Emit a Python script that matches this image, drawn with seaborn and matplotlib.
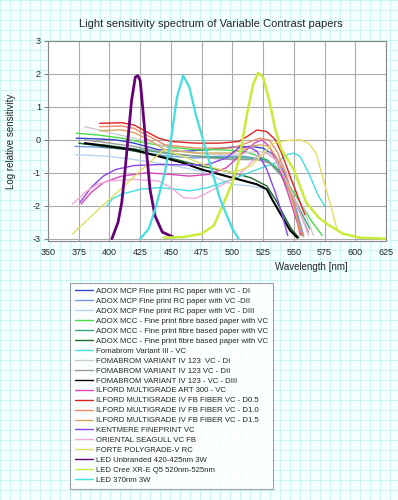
import matplotlib
matplotlib.use("Agg")
import matplotlib.pyplot as plt
import seaborn as sns
import pandas as pd

title = "Light sensitivity spectrum of Variable Contrast papers"
x_label = "Wavelength [nm]"
y_label = "Log relative sensitivity"
x_ticks = [350, 375, 400, 425, 450, 475, 500, 525, 550, 575, 600, 625]
y_ticks = [-3, -2, -1, 0, 1, 2, 3]

labels = [
    "ADOX MCP Fine print RC paper with VC - DI",
    "ADOX MCP Fine print RC paper with VC -DII",
    "ADOX MCP Fine print RC paper with VC - DIII",
    "ADOX MCC - Fine print fibre based paper with VC",
    "ADOX MCC - Fine print fibre based paper with VC",
    "ADOX MCC - Fine print fibre based paper with VC",
    "Fomabrom Variant III - VC",
    "FOMABROM VARIANT IV 123  VC - DI",
    "FOMABROM VARIANT IV 123 VC - DII",
    "FOMABROM VARIANT IV 123 - VC - DIII",
    "ILFORD MULTIGRADE ART 300 - VC",
    "ILFORD MULTIGRADE IV FB FIBER VC - D0.5",
    "ILFORD MULTIGRADE IV FB FIBER VC - D1.0",
    "ILFORD MULTIGRADE IV FB FIBER VC - D1.5",
    "KENTMERE FINEPRINT VC",
    "ORIENTAL SEAGULL VC FB",
    "FORTE POLYGRADE-V RC",
    "LED Unbranded 420-425nm 3W",
    "LED Cree XR-E Q5 520nm-525nm",
    "LED 370nm 3W",
]

# --- series data (wavelength nm, log relative sensitivity) ---
adox_mcp_d1_wl = [373, 390, 405, 420, 440, 460, 480, 500, 515, 525, 535, 542, 548, 553, 557]
adox_mcp_d1 = [0.05, 0.03, 0.0, -0.1, -0.3, -0.35, -0.3, -0.22, -0.2, -0.25, -0.5, -1.0, -1.6, -2.3, -2.9]

adox_mcp_d2_wl = [372, 390, 410, 430, 450, 470, 490, 510, 525, 535, 543, 550, 555, 558]
adox_mcp_d2 = [-0.2, -0.22, -0.28, -0.4, -0.5, -0.55, -0.5, -0.5, -0.6, -0.8, -1.3, -1.9, -2.5, -2.9]

adox_mcp_d3_wl = [372, 400, 430, 455, 474, 490, 500, 515, 528, 535, 542, 550]
adox_mcp_d3 = [-0.45, -0.5, -0.65, -0.8, -0.95, -1.2, -1.35, -1.4, -1.5, -1.8, -2.3, -2.9]

adox_mcc_1_wl = [373, 390, 410, 430, 450, 470, 490, 510, 525, 535, 545, 555, 565, 573]
adox_mcc_1 = [0.2, 0.15, 0.05, -0.1, -0.22, -0.3, -0.3, -0.35, -0.55, -0.8, -1.3, -1.9, -2.5, -2.9]

adox_mcc_2_wl = [378, 395, 415, 435, 455, 475, 495, 515, 528, 538, 548, 556, 563]
adox_mcc_2 = [-0.12, -0.15, -0.25, -0.35, -0.45, -0.5, -0.55, -0.55, -0.6, -0.95, -1.6, -2.2, -2.7]

adox_mcc_3_wl = [375, 395, 415, 435, 455, 475, 495, 515, 528, 535, 542, 548, 554]
adox_mcc_3 = [-0.1, -0.2, -0.3, -0.45, -0.6, -0.8, -0.95, -1.15, -1.4, -1.8, -2.3, -2.7, -2.97]

foma_iii_wl = [398, 402, 410, 425, 440, 455, 465, 480, 500, 520, 535, 545, 550, 555, 562, 570, 575]
foma_iii = [-2.0, -1.8, -1.65, -1.5, -1.45, -1.5, -1.55, -1.45, -1.2, -0.9, -0.7, -0.45, -0.4, -0.5, -1.0, -1.7, -2.0]

foma_iv_d1_wl = [380, 400, 420, 440, 460, 480, 500, 520, 530, 540, 550, 558, 566]
foma_iv_d1 = [0.4, 0.22, 0.05, -0.15, -0.35, -0.45, -0.45, -0.35, -0.4, -0.7, -1.4, -2.1, -2.9]

foma_iv_d2_wl = [380, 400, 420, 440, 460, 480, 500, 520, 530, 540, 550, 557, 562]
foma_iv_d2 = [0.0, -0.1, -0.2, -0.35, -0.45, -0.55, -0.6, -0.6, -0.7, -1.1, -1.8, -2.4, -2.8]

foma_iv_d3_wl = [380, 400, 420, 440, 460, 475, 490, 505, 520, 528, 533, 540, 547, 553]
foma_iv_d3 = [-0.1, -0.2, -0.3, -0.5, -0.7, -0.9, -1.05, -1.2, -1.35, -1.5, -1.85, -2.3, -2.75, -2.97]

ilford_art_wl = [377, 385, 395, 410, 430, 450, 465, 480, 495, 510, 518, 524, 530, 537, 545, 551, 556]
ilford_art = [-1.95, -1.6, -1.3, -1.1, -1.0, -1.05, -1.1, -1.05, -0.85, -0.35, -0.1, 0.0, -0.2, -0.75, -1.6, -2.3, -2.9]

ilford_d05_wl = [392, 410, 420, 430, 440, 450, 470, 490, 505, 512, 520, 528, 535, 540, 545, 550, 555, 559]
ilford_d05 = [0.5, 0.52, 0.45, 0.25, 0.05, -0.05, -0.1, -0.1, -0.05, 0.1, 0.3, 0.25, 0.0, -0.4, -0.9, -1.4, -1.9, -2.27]

ilford_d10_wl = [392, 410, 420, 430, 445, 470, 500, 515, 522, 530, 537, 545, 550, 555]
ilford_d10 = [0.4, 0.42, 0.35, 0.15, -0.15, -0.25, -0.25, -0.05, 0.05, 0.0, -0.4, -1.2, -1.9, -2.9]

ilford_d15_wl = [392, 410, 420, 432, 445, 470, 500, 515, 522, 530, 537, 545, 552, 558]
ilford_d15 = [0.28, 0.3, 0.22, 0.0, -0.3, -0.4, -0.4, -0.2, -0.15, -0.2, -0.6, -1.4, -2.3, -2.95]

kentmere_wl = [376, 385, 395, 405, 420, 440, 460, 480, 495, 505, 513, 520, 528, 535, 540, 545]
kentmere = [-1.9, -1.45, -1.1, -0.9, -0.78, -0.75, -0.76, -0.75, -0.55, -0.25, -0.2, -0.35, -0.9, -1.6, -2.2, -2.9]

oriental_wl = [370, 380, 390, 400, 420, 440, 450, 460, 470, 480, 495, 510, 520, 528, 535, 545, 555, 562]
oriental = [-1.95, -1.6, -1.35, -1.25, -1.2, -1.25, -1.45, -1.75, -1.78, -1.6, -1.3, -0.9, -0.5, -0.4, -0.6, -1.3, -2.2, -2.9]

forte_wl = [370, 390, 406, 425, 444, 460, 480, 500, 515, 533, 545, 555, 562, 568, 574, 580, 585]
forte = [-2.85, -2.15, -1.6, -0.95, -0.3, -0.5, -0.8, -1.0, -0.8, -0.1, -0.02, 0.0, -0.1, -0.4, -1.2, -2.0, -2.7]

led_420_wl = [402, 407, 410, 412, 415, 418, 421, 423, 425, 427, 430, 433, 437, 443, 452]
led_420 = [-3.0, -2.5, -1.9, -1.2, 0.0, 1.2, 1.9, 1.95, 1.8, 1.0, -0.3, -1.5, -2.3, -2.8, -2.95]

led_cree_wl = [444, 460, 475, 485, 492, 500, 506, 512, 517, 521, 525, 530, 535, 540, 550, 560, 570, 577, 590, 604, 625]
led_cree = [-2.97, -2.95, -2.85, -2.6, -2.0, -1.3, -0.5, 0.8, 1.7, 2.03, 1.9, 1.2, 0.3, -0.3, -0.9, -1.9, -2.35, -2.55, -2.85, -2.97, -3.0]

led_370_wl = [425, 432, 438, 445, 450, 455, 460, 465, 470, 480, 490, 500, 505]
led_370 = [-3.0, -2.7, -2.0, -1.0, 0.0, 1.3, 1.95, 1.6, 0.8, -0.5, -1.8, -2.7, -3.0]

series_wl = [adox_mcp_d1_wl, adox_mcp_d2_wl, adox_mcp_d3_wl, adox_mcc_1_wl, adox_mcc_2_wl,
             adox_mcc_3_wl, foma_iii_wl, foma_iv_d1_wl, foma_iv_d2_wl, foma_iv_d3_wl,
             ilford_art_wl, ilford_d05_wl, ilford_d10_wl, ilford_d15_wl, kentmere_wl,
             oriental_wl, forte_wl, led_420_wl, led_cree_wl, led_370_wl]
series_val = [adox_mcp_d1, adox_mcp_d2, adox_mcp_d3, adox_mcc_1, adox_mcc_2,
              adox_mcc_3, foma_iii, foma_iv_d1, foma_iv_d2, foma_iv_d3,
              ilford_art, ilford_d05, ilford_d10, ilford_d15, kentmere,
              oriental, forte, led_420, led_cree, led_370]

colors = ["#3344cc", "#6f9be8", "#b4d4f0", "#44dd44", "#33aa77", "#1f6b2a", "#44dddd",
          "#cccccc", "#999999", "#000000", "#dd44bb", "#dd2222", "#ee8866", "#d9a860",
          "#8844e6", "#eeaad6", "#e0e060", "#660077", "#c8ec3c", "#44dddd"]
widths = [1.0, 1.0, 1.0, 1.0, 1.0, 1.0, 1.0, 1.0, 1.0, 1.5, 1.0, 1.0, 1.0, 1.0, 1.0,
          1.0, 1.0, 2.0, 1.8, 1.6]

sns.set_theme(style="white")
plt.rcParams["font.family"] = ["Liberation Sans", "DejaVu Sans"]
plt.rcParams["axes.unicode_minus"] = False

fig = plt.figure(figsize=(3.98, 5.0), dpi=100)
fig.patch.set_facecolor("#f6ffff")

# graph-paper background
bg = fig.add_axes([0, 0, 1, 1], zorder=-10)
bg.set_xlim(0, 398)
bg.set_ylim(500, 0)
for gx in range(0, 399, 10):
    bg.axvline(gx, color="#c6f1f1", lw=0.6)
for gy in range(0, 501, 10):
    bg.axhline(gy, color="#c6f1f1", lw=0.6)
bg.axis("off")

ax = fig.add_axes([48 / 398, 1 - 241 / 500, (386 - 48) / 398, (241 - 41) / 500])
ax.set_facecolor("white")

for wl, val, lab, col, lw in zip(series_wl, series_val, labels, colors, widths):
    df = pd.DataFrame({"wl": wl, "val": val})
    sns.lineplot(data=df, x="wl", y="val", ax=ax, color=col, lw=lw, label=lab, legend=False)

ax.set_xlim(350, 625)
ax.set_ylim(-3.07, 3)
ax.set_xticks(x_ticks)
ax.set_yticks(y_ticks)
ax.set_xticklabels([str(t) for t in x_ticks], fontsize=6.5)
ax.set_yticklabels([str(t) for t in y_ticks], fontsize=6.5)
ax.grid(True, color="#aaaaaa", lw=0.8)
ax.set_axisbelow(True)
for sp in ax.spines.values():
    sp.set_color("#888888")
    sp.set_linewidth(0.8)
ax.tick_params(axis="y", left=True, length=3, width=0.6, color="#666666", pad=2)
ax.tick_params(axis="x", bottom=False, length=0, pad=5)
ax.set_xlabel(x_label, fontsize=7)
ax.xaxis.set_label_coords(0.78, -0.105)
ax.set_ylabel(y_label, fontsize=7)
ax.yaxis.set_label_coords(-0.095, 0.5)

fig.text(211 / 398, 1 - 24 / 500, title, ha="center", va="center", fontsize=8)

handles, labs = ax.get_legend_handles_labels()
leg = fig.legend(handles, labs, loc="upper left", bbox_to_anchor=(70 / 398, 1 - 283 / 500),
                 fontsize=5.6, frameon=True, fancybox=False, edgecolor="#888888",
                 handlelength=2.3, handletextpad=0.5, labelspacing=0.32, borderpad=0.6,
                 borderaxespad=0)
leg.get_frame().set_facecolor("white")
leg.get_frame().set_linewidth(0.8)
for ln in leg.get_lines():
    ln.set_linewidth(1.0)

fig.savefig("out.png", dpi=100, facecolor=fig.get_facecolor())
